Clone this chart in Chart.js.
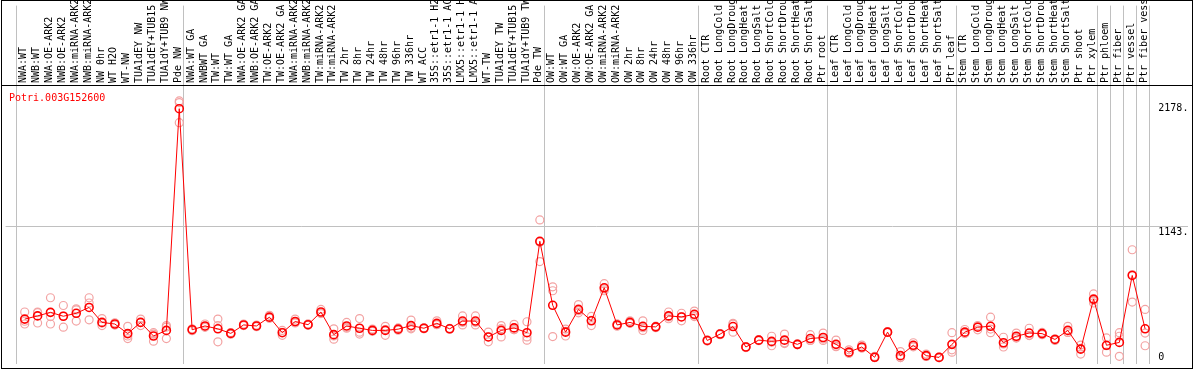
<!DOCTYPE html>
<html><head><meta charset="utf-8">
<script src="https://cdn.jsdelivr.net/npm/chart.js@4.4.1/dist/chart.umd.min.js"></script>
<style>html,body{margin:0;padding:0;background:#fff;overflow:hidden}canvas{display:block}</style>
</head><body>
<canvas id="c" width="1194" height="370"></canvas>
<script>
const geneLabel = 'Potri.003G152600';
const categories = [
 'NWA:WT','NWB:WT','NWA:OE-ARK2','NWB:OE-ARK2','NWA:miRNA-ARK2','NWB:miRNA-ARK2','NW 0hr','WT H2O','WT-NW','TUA1dEY NW','TUA1dEY+TUB15','TUA1dY+TUB9 NW','Pde NW',
 'NWA:WT GA','NWBWT GA','TW:WT','TW:WT GA','NWA:OE-ARK2 GA','NWB:OE-ARK2 GA','TW:OE-ARK2','TW:OE-ARK2 GA','NWA:miRNA-ARK2','NWB:miRNA-ARK2','TW:miRNA-ARK2','TW:miRNA-ARK2',
 'TW 2hr','TW 8hr','TW 24hr','TW 48hr','TW 96hr','TW 336hr','WT ACC','35S::etr1-1 H2','35S::etr1-1 AC','LMX5::etr1-1 H','LMX5::etr1-1 A','WT-TW','TUA1dEY TW','TUA1dEY+TUB15','TUA1dY+TUB9 TW','Pde TW',
 'OW:WT','OW:WT GA','OW:OE-ARK2','OW:OE-ARK2 GA','OW:miRNA-ARK2','OW:miRNA-ARK2','OW 2hr','OW 8hr','OW 24hr','OW 48hr','OW 96hr','OW 336hr',
 'Root CTR','Root LongCold','Root LongDroug','Root LongHeat','Root LongSalt','Root ShortCold','Root ShortDrou','Root ShortHeat','Root ShortSalt','Ptr root',
 'Leaf CTR','Leaf LongCold','Leaf LongDroug','Leaf LongHeat','Leaf LongSalt','Leaf ShortCold','Leaf ShortDrou','Leaf ShortHeat','Leaf ShortSalt','Ptr leaf',
 'Stem CTR','Stem LongCold','Stem LongDroug','Stem LongHeat','Stem LongSalt','Stem ShortCold','Stem ShortDrou','Stem ShortHeat','Stem ShortSalt','Ptr shoot','Ptr xylem',
 'Ptr phloem','Ptr fiber','Ptr vessel','Ptr fiber vess'
];
const groupBoundaries = [0, 13, 41, 53, 63, 73, 84, 85, 86, 87, 88];
const meanValues = [
 337,365,396,362,388,439,308,294,210,308,189,238,2178,
 244,277,252,212,286,277,354,218,316,288,399,201,277,257,238,238,249,280,257,300,252,320,320,181,238,260,218,1018,
 458,223,422,322,611,286,308,274,269,365,356,379,
 150,206,272,93,153,142,153,116,167,176,
 116,48,93,3,223,17,108,17,2,116,
 223,266,274,130,187,215,210,159,238,74,512,
 108,133,719,252
];
const rep1 = [
 399,399,524,456,427,524,342,305,274,337,218,280,2246,
 252,294,337,212,294,285,370,238,337,295,422,252,308,342,250,274,260,328,262,322,255,365,365,223,280,291,314,1205,
 619,250,464,360,647,295,322,322,275,399,388,407,
 155,210,300,95,157,187,206,120,201,215,
 153,68,110,10,228,53,130,31,5,218,
 246,243,354,178,215,257,220,165,274,110,557,
 172,218,944,422
];
const rep2 = [
 294,303,359,266,320,478,280,285,167,280,144,167,2056,
 235,265,138,205,280,270,345,195,308,285,390,161,265,223,230,195,240,260,252,290,248,286,286,138,181,245,153,1010,
 585,189,410,280,585,275,300,238,262,340,322,359,
 145,200,223,88,148,104,130,112,150,150,
 96,38,85,0,220,0,100,10,0,68,
 210,274,218,119,175,195,200,150,220,31,478,
 48,187,486,215
];
const rep3 = [
 318,393,294,364,417,331,302,292,189,307,205,267,2232,
 245,272,281,219,284,276,347,221,303,284,385,190,258,206,234,245,247,252,257,288,253,309,309,182,253,244,181,840,
 184,230,392,326,601,288,302,262,270,356,358,371,
 150,208,293,96,154,135,123,116,150,163,
 99,38,84,0,221,0,94,10,0,48,
 213,281,250,93,171,193,210,162,220,81,501,
 104,11,727,104
];
const yTickValues = [0, 1143, 2178];
const yTickLabels = ['0', '1143.', '2178.'];
const midTick = 1143;

const FONT_FAMILY = '"DejaVu Sans Mono", monospace';
const pts = arr => arr.map((v, i) => ({x: i, y: v}));

const headerPlugin = {
  id: 'header',
  beforeDraw(chart) {
    const c = chart.ctx; c.save(); c.fillStyle = '#fff'; c.fillRect(0, 0, chart.width, chart.height); c.restore();
  },
  afterDraw(chart) {
    const c = chart.ctx, xs = chart.scales.x;
    c.save();
    c.font = '10px ' + FONT_FAMILY;
    c.fillStyle = '#000'; c.textAlign = 'left'; c.textBaseline = 'middle';
    categories.forEach((lab, i) => {
      const px = xs.getPixelForValue(i) - 1;
      c.save(); c.translate(px, 83); c.rotate(-Math.PI / 2); c.fillText(lab, 0, 0); c.restore();
    });
    c.fillStyle = '#000';
    c.fillRect(1, 85, 1192, 1);
    c.fillRect(1, 0, 1192, 1); c.fillRect(1, 368, 1192, 1);
    c.fillRect(1, 0, 1, 369); c.fillRect(1192, 0, 1, 369);
    c.fillStyle = '#ff0000'; c.textBaseline = 'alphabetic';
    c.fillText(geneLabel, 9, 100.5);
    c.restore();
  }
};

const repStyle = {showLine: false, pointRadius: 4, pointBorderWidth: 1.2, pointBorderColor: '#f3a3a3', pointBackgroundColor: 'rgba(0,0,0,0)', borderColor: '#f3a3a3'};

new Chart(document.getElementById('c'), {
  type: 'line',
  data: {
    datasets: [
      {label: 'mean', data: pts(meanValues), borderColor: '#ff0000', borderWidth: 1, pointRadius: 4, pointBorderWidth: 1.6,
       pointBorderColor: '#ff0000', pointBackgroundColor: 'rgba(0,0,0,0)', tension: 0},
      Object.assign({label: 'rep1', data: pts(rep1)}, repStyle),
      Object.assign({label: 'rep2', data: pts(rep2)}, repStyle),
      Object.assign({label: 'rep3', data: pts(rep3)}, repStyle)
    ]
  },
  options: {
    responsive: false, animation: false, devicePixelRatio: 1, events: [],
    layout: {padding: 0},
    plugins: {legend: {display: false}, tooltip: {enabled: false}, title: {display: false}},
    scales: {
      x: {
        type: 'linear', min: -1.4846, max: 90.362, bounds: 'data',
        afterBuildTicks: s => { s.ticks = groupBoundaries.map(k => ({value: k - 0.66})); },
        afterFit: s => { s.paddingLeft = 0; s.paddingRight = 0; s.height = 0; },
        ticks: {display: false},
        grid: {drawTicks: false, color: '#c0c0c0', lineWidth: 1},
        border: {display: false}
      },
      y: {
        type: 'linear', position: 'right', min: -59.4, max: 3080.2, bounds: 'data',
        afterBuildTicks: s => { s.ticks = yTickValues.map(v => ({value: v})); },
        afterFit: s => { s.paddingTop = 0; s.paddingBottom = 0; s.width = 0; },
        ticks: {mirror: true, crossAlign: 'far', padding: 0, color: '#000',
                font: {family: FONT_FAMILY, size: 10, lineHeight: 1},
                callback: v => {
                  const lab = yTickLabels[yTickValues.indexOf(v)];
                  return v === midTick ? ['', lab] : lab;
                }},
        grid: {drawTicks: false, lineWidth: 1, color: ctx => (ctx.tick && ctx.tick.value === midTick) ? '#c0c0c0' : 'rgba(0,0,0,0)'},
        border: {display: false}
      }
    }
  },
  plugins: [headerPlugin]
});
</script>
</body></html>
